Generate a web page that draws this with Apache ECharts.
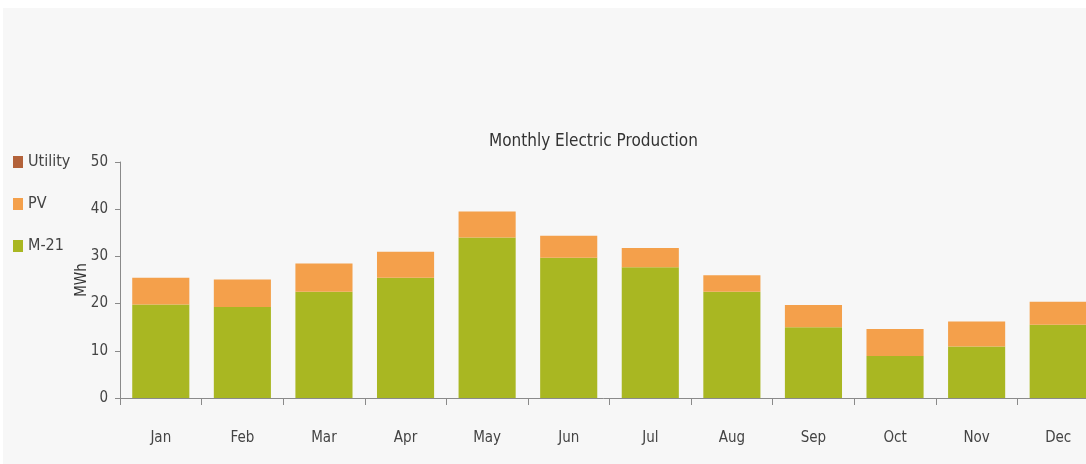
<!DOCTYPE html>
<html>
<head>
<meta charset="utf-8">
<title>Monthly Electric Production</title>
<script src="https://cdn.jsdelivr.net/npm/echarts@6/dist/echarts.min.js"></script>
<style>
  html, body { margin: 0; padding: 0; background: #ffffff; }
  #chart { width: 1086px; height: 464px; }
</style>
</head>
<body>
<div id="chart"></div>
<script>
// Monthly production by source, MWh
const months = ['Jan', 'Feb', 'Mar', 'Apr', 'May', 'Jun', 'Jul', 'Aug', 'Sep', 'Oct', 'Nov', 'Dec'];
const m21 = [19.8, 19.3, 22.5, 25.5, 34.0, 29.7, 27.7, 22.5, 15.0, 8.9, 10.9, 15.5];
const pv = [5.7, 5.8, 6.0, 5.5, 5.5, 4.7, 4.1, 3.5, 4.7, 5.7, 5.3, 4.9];
const utility = [0, 0, 0, 0, 0, 0, 0, 0, 0, 0, 0, 0];
const yTicks = [0, 10, 20, 30, 40, 50];

const FONT = '"Liberation Sans Narrow", "DejaVu Sans Condensed", "Open Sans", sans-serif';
const COLORS = { utility: '#b3623a', pv: '#f4a04b', m21: '#a9b722' };

const chart = echarts.init(document.getElementById('chart'), null, { renderer: 'canvas' });

chart.setOption({
  animation: false,
  backgroundColor: '#ffffff',
  graphic: [{
    type: 'rect',
    z: -10,
    silent: true,
    shape: { x: 3, y: 8, width: 1083, height: 456 },
    style: { fill: '#f7f7f7' }
  }],
  title: {
    text: 'Monthly Electric Production',
    left: 484,
    top: 128,
    textStyle: { fontFamily: FONT, fontSize: 17, fontWeight: 'normal', color: '#333333' }
  },
  legend: {
    orient: 'vertical',
    left: 8,
    top: 149,
    itemWidth: 10,
    itemHeight: 12,
    itemGap: 26,
    icon: 'rect',
    textStyle: { fontFamily: FONT, fontSize: 16, color: '#444444' },
    data: ['Utility', 'PV', 'M-21']
  },
  // the December column runs past the right edge of the page
  grid: { left: 120, top: 162, bottom: 66, right: -13, containLabel: false, outerBoundsMode: 'none' },
  xAxis: {
    type: 'category',
    data: months,
    axisLine: { lineStyle: { color: '#8a8a8a', width: 1 } },
    axisTick: { show: true, length: 7, lineStyle: { color: '#8a8a8a' } },
    axisLabel: { margin: 33, fontFamily: FONT, fontSize: 15, color: '#444444' }
  },
  yAxis: {
    type: 'value',
    min: yTicks[0],
    max: yTicks[yTicks.length - 1],
    interval: yTicks[1] - yTicks[0],
    name: 'MWh',
    nameLocation: 'middle',
    nameGap: 30,
    nameMoveOverlap: false,
    nameTextStyle: { fontFamily: FONT, fontSize: 15, color: '#333333' },
    axisLine: { show: true, lineStyle: { color: '#8a8a8a', width: 1 } },
    axisTick: { show: true, length: 5, lineStyle: { color: '#8a8a8a' } },
    axisLabel: { margin: 12, fontFamily: FONT, fontSize: 15, color: '#444444' },
    splitLine: { show: false }
  },
  series: [
    { name: 'M-21', type: 'bar', stack: 'total', data: m21, barCategoryGap: '30%', itemStyle: { color: COLORS.m21 } },
    { name: 'PV', type: 'bar', stack: 'total', data: pv, itemStyle: { color: COLORS.pv } },
    { name: 'Utility', type: 'bar', stack: 'total', data: utility, itemStyle: { color: COLORS.utility } }
  ]
});
</script>
</body>
</html>
